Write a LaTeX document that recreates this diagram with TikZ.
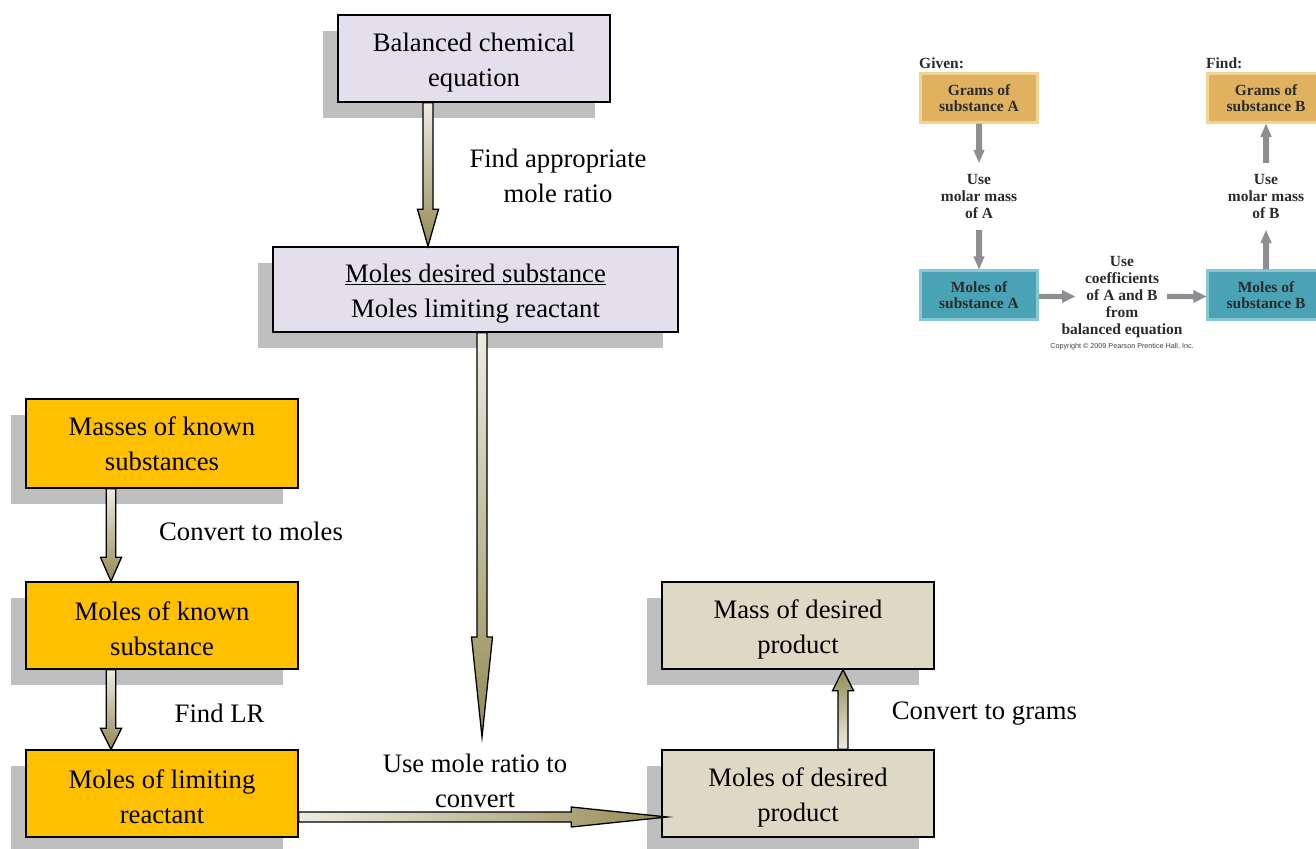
\documentclass[tikz,border=0pt]{standalone}
\usepackage{fontspec}
\setmainfont{Liberation Serif}
\newfontfamily\insetsans{Liberation Sans}
\usetikzlibrary{calc,shadows}

\definecolor{lav}{HTML}{E4DFEC}
\definecolor{goldbox}{HTML}{FFC000}
\definecolor{tanbox}{HTML}{DDD9C4}
\definecolor{shgray}{HTML}{BFBFBF}
\definecolor{arrlight}{HTML}{EEECE1}
\definecolor{arrdark}{HTML}{948A54}
\definecolor{insgold}{HTML}{E0B25F}
\definecolor{insgoldedge}{HTML}{F2D394}
\definecolor{insteal}{HTML}{4AA3B4}
\definecolor{instealedge}{HTML}{86C8D3}
\definecolor{insarrow}{HTML}{8D8D92}
\definecolor{instext}{HTML}{2B2B2B}

\newcommand{\tstrut}{\rule{0pt}{26pt}}

% block arrows: #1 style, #2 start, #3 end, #4 half shaft, #5 half head, #6 head length
\newcommand{\arrdown}[6]{\path[#1] let \p1=#2, \p2=#3 in
 (\x1-#4pt,\y1) -- (\x1-#4pt,\y2+#6pt) -- (\x1-#5pt,\y2+#6pt) -- (\x1,\y2) -- (\x1+#5pt,\y2+#6pt) -- (\x1+#4pt,\y2+#6pt) -- (\x1+#4pt,\y1) -- cycle;}
\newcommand{\arrup}[6]{\path[#1] let \p1=#2, \p2=#3 in
 (\x1-#4pt,\y1) -- (\x1-#4pt,\y2-#6pt) -- (\x1-#5pt,\y2-#6pt) -- (\x1,\y2) -- (\x1+#5pt,\y2-#6pt) -- (\x1+#4pt,\y2-#6pt) -- (\x1+#4pt,\y1) -- cycle;}
\newcommand{\arrright}[6]{\path[#1] let \p1=#2, \p2=#3 in
 (\x1,\y1+#4pt) -- (\x2-#6pt,\y1+#4pt) -- (\x2-#6pt,\y1+#5pt) -- (\x2,\y1) -- (\x2-#6pt,\y1-#5pt) -- (\x2-#6pt,\y1-#4pt) -- (\x1,\y1-#4pt) -- cycle;}

\tikzset{
  bigfont/.style={font={\fontsize{26.67}{35}\selectfont}},
  mainbox/.style={bigfont, draw=black, line width=1.4pt, align=center, inner sep=0pt,
    minimum width=272pt, minimum height=87pt,
    general shadow={fill=shgray, shadow xshift=-15pt, shadow yshift=-16pt}},
  lavbox/.style={mainbox, fill=lav},
  goldb/.style={mainbox, fill=goldbox},
  tanb/.style={mainbox, fill=tanbox},
  lbl/.style={bigfont, align=center, inner sep=0pt},
  downshade/.style={top color=arrlight, bottom color=arrdark, draw=black, line width=1.3pt, line join=miter},
  upshade/.style={bottom color=arrlight, top color=arrdark, draw=black, line width=1.3pt, line join=miter},
  rightshade/.style={left color=arrlight, right color=arrdark, draw=black, line width=1.3pt, line join=miter},
  insfont/.style={font={\fontsize{15.5}{16.7}\selectfont\bfseries}, text=instext},
  insbox/.style={insfont, align=center, inner sep=0pt, minimum width=117pt, minimum height=49pt, line width=2.5pt},
  insgoldb/.style={insbox, fill=insgold, draw=insgoldedge},
  instealb/.style={insbox, fill=insteal, draw=instealedge},
  instxt/.style={insfont, align=center, inner sep=0pt},
  insarr/.style={fill=insarrow},
}

\begin{document}
\begin{tikzpicture}[x=1pt, y=-1pt]
\clip (0,0) rectangle (1316,848);
\fill[white] (0,0) rectangle (1316,848);

% main boxes
\node[lavbox] (bal) at (474,58.5) {\tstrut Balanced chemical\\equation};
\node[lavbox, minimum width=405pt, minimum height=85pt] (mds) at (475.5,289.5) {\tstrut\underline{Moles desired substance}\\Moles limiting reactant};
\node[goldb, minimum height=89pt] (mks) at (162,443.5) {\rule{0pt}{20pt}Masses of known\\substances};
\node[goldb] (mkn) at (162,625.5) {\tstrut Moles of known\\substance};
\node[goldb] (mlr) at (162,793.5) {\tstrut Moles of limiting\\reactant};
\node[tanb] (mdp) at (798,625.5) {\tstrut Mass of desired\\product};
\node[tanb] (mdpm) at (798,793.5) {\tstrut Moles of desired\\product};

% labels
\node[lbl] (l1) at (558,175.5) {Find appropriate\\mole ratio};
\node[lbl] (l2) at (251,531) {Convert to moles};
\node[lbl] (l3) at (219.5,713) {Find LR};
\node[lbl] (l4) at (475,781) {Use mole ratio to\\convert};
\node[lbl] (l5) at (984.5,714) {Convert to grams};

% main arrows
\coordinate (tip2) at (482,737);
\arrdown{downshade}{($(bal.south)+(-46,0)$)}{(mds.north)}{5}{10.5}{37}
\arrdown{downshade}{($(mds.south)+(6.5,0)$)}{(tip2)}{5}{10.5}{100}
\arrdown{downshade}{($(mks.south)+(-51,0)$)}{(mkn.north)}{4.7}{10.5}{24}
\arrdown{downshade}{($(mkn.south)+(-51,0)$)}{(mlr.north)}{4.7}{10.5}{21}
\coordinate (tip5) at ($(mdpm.west)+(6,23.5)$);
\arrright{rightshade}{($(mlr.east)+(0,23.5)$)}{(tip5)}{5}{10}{96}
\arrup{upshade}{($(mdpm.north)+(45,0)$)}{(mdp.south)}{5}{10.5}{21}

% inset figure
\node[insfont, anchor=west, inner sep=0pt] (given) at (919,63) {Given:};
\node[insfont, anchor=west, inner sep=0pt] (find) at (1206,63) {Find:};
\node[insgoldb] (gA) at (979,98) {Grams of\\substance A};
\node[instealb] (mA) at (979,295) {Moles of\\substance A};
\node[insgoldb] (gB) at (1266,98) {Grams of\\substance B};
\node[instealb] (mB) at (1266,295) {Moles of\\substance B};
\node[instxt, minimum height=67pt] (uA) at (979,196.5) {Use\\molar mass\\of A};
\node[instxt, minimum height=67pt] (uB) at (1266,196.5) {Use\\molar mass\\of B};
\node[instxt, font={\fontsize{15.5}{16.9}\selectfont\bfseries}] (uC) at (1122,297) {Use\\coefficients\\of A and B\\from\\balanced equation};
\node[inner sep=0pt, text=black!75, font={\insetsans\fontsize{7.2}{8}\selectfont}] (copy) at (1122,347) {Copyright \textcopyright{} 2009 Pearson Prentice Hall, Inc.};

\coordinate (cL) at (1075,296.5);
\coordinate (cR) at (1167,296.5);
\arrdown{insarr}{(gA.south)}{(uA.north)}{3}{5.7}{13}
\arrdown{insarr}{(uA.south)}{(mA.north)}{3}{5.7}{13}
\arrup{insarr}{(mB.north)}{(uB.south)}{3}{5.7}{13}
\arrup{insarr}{(uB.north)}{(gB.south)}{3}{5.7}{13}
\arrright{insarr}{($(mA.east)+(0,1.5)$)}{(cL)}{2.7}{6.5}{13}
\arrright{insarr}{(cR)}{($(mB.west)+(0,1.5)$)}{2.7}{6.5}{13}
\end{tikzpicture}
\end{document}
